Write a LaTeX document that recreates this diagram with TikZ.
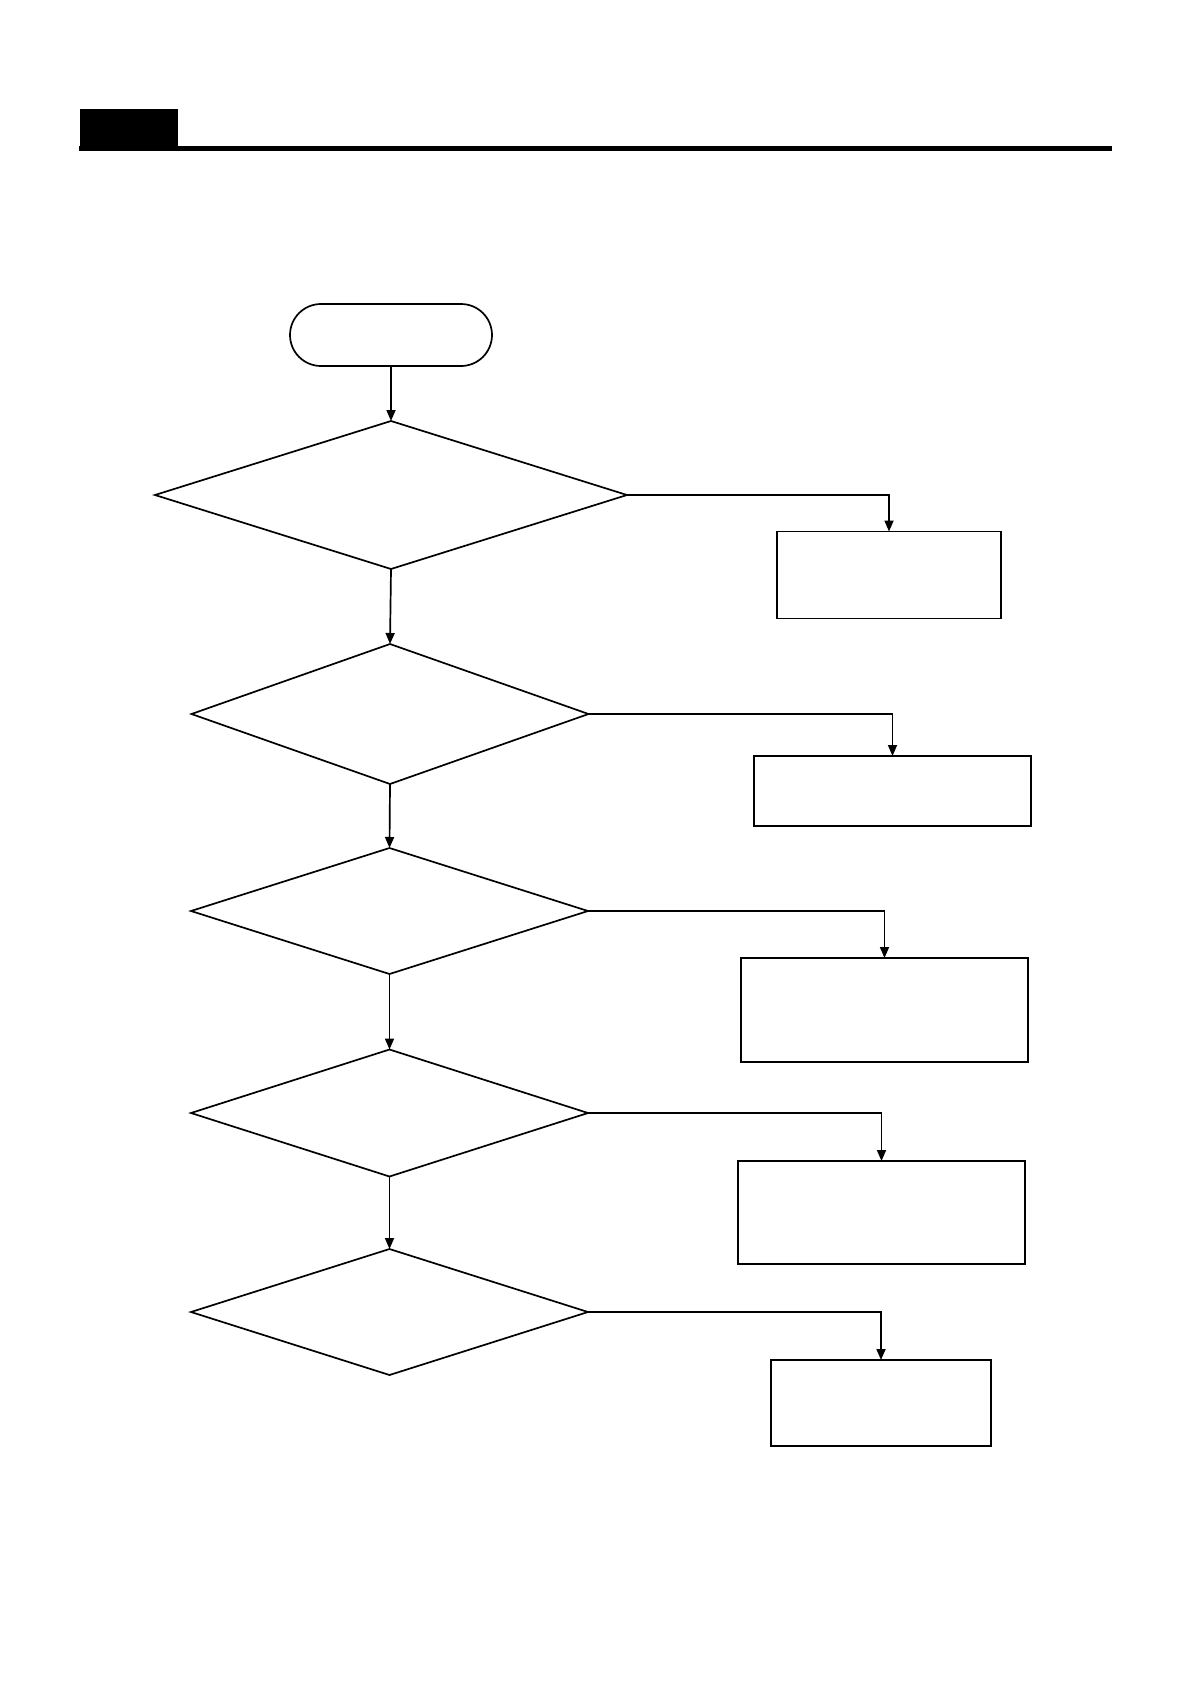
\documentclass[tikz,border=0pt]{standalone}
\usetikzlibrary{shapes.geometric,arrows.meta}
\begin{document}
\begin{tikzpicture}[x=1pt,y=-1pt,
  shapeline/.style={draw=black,line width=1.7pt},
  decision/.style={shapeline,diamond,inner sep=0pt,outer sep=0pt},
  stepbox/.style={shapeline,rectangle,inner sep=0pt,outer sep=0pt},
  terminal/.style={shapeline,rectangle,rounded corners=31pt,inner sep=0pt,outer sep=0pt},
  conn/.style={draw=black,line width=1.7pt,-{Triangle[length=11pt,width=9pt]}}]
\useasboundingbox (0,0) rectangle (1190,1684);
\fill[white] (0,0) rectangle (1190,1684);
% header
\node[fill=black,inner sep=0pt,minimum width=98pt,minimum height=42pt] (hdr) at (128.5,129.5) {};
\coordinate (hlineend) at (1112,148.5);
\draw[line width=4.5pt] (hdr.south west |- hlineend) -- (hlineend);
% start
\node[terminal,minimum width=202pt,minimum height=62pt] (start) at (391,335) {};
% decisions
\node[decision,minimum width=472pt,minimum height=148pt] (d1) at (391,495) {};
\node[decision,minimum width=397pt,minimum height=140pt] (d2) at (390,714) {};
\node[decision,minimum width=397pt,minimum height=126pt] (d3) at (389.5,911) {};
\node[decision,minimum width=397pt,minimum height=127pt] (d4) at (389.5,1113) {};
\node[decision,minimum width=397pt,minimum height=126pt] (d5) at (389.5,1312) {};
% boxes
\node[stepbox,minimum width=224pt,minimum height=87pt] (b1) at (889,575) {};
\node[stepbox,minimum width=277pt,minimum height=70pt] (b2) at (892.5,791) {};
\node[stepbox,minimum width=287pt,minimum height=104pt] (b3) at (884.5,1010) {};
\node[stepbox,minimum width=287pt,minimum height=103pt] (b4) at (881.5,1212.5) {};
\node[stepbox,minimum width=220pt,minimum height=86pt] (b5) at (881,1403) {};
% connectors
\draw[conn] (start.south) -- (d1.north);
\draw[conn] (d1.south) -- (d2.north);
\draw[conn] (d2.south) -- (d3.north);
\draw[conn] (d3.south) -- (d4.north);
\draw[conn] (d4.south) -- (d5.north);
\draw[conn] (d1.east) -| (b1.north);
\draw[conn] (d2.east) -| (b2.north);
\draw[conn] (d3.east) -| (b3.north);
\draw[conn] (d4.east) -| (b4.north);
\draw[conn] (d5.east) -| (b5.north);
\end{tikzpicture}
\end{document}
